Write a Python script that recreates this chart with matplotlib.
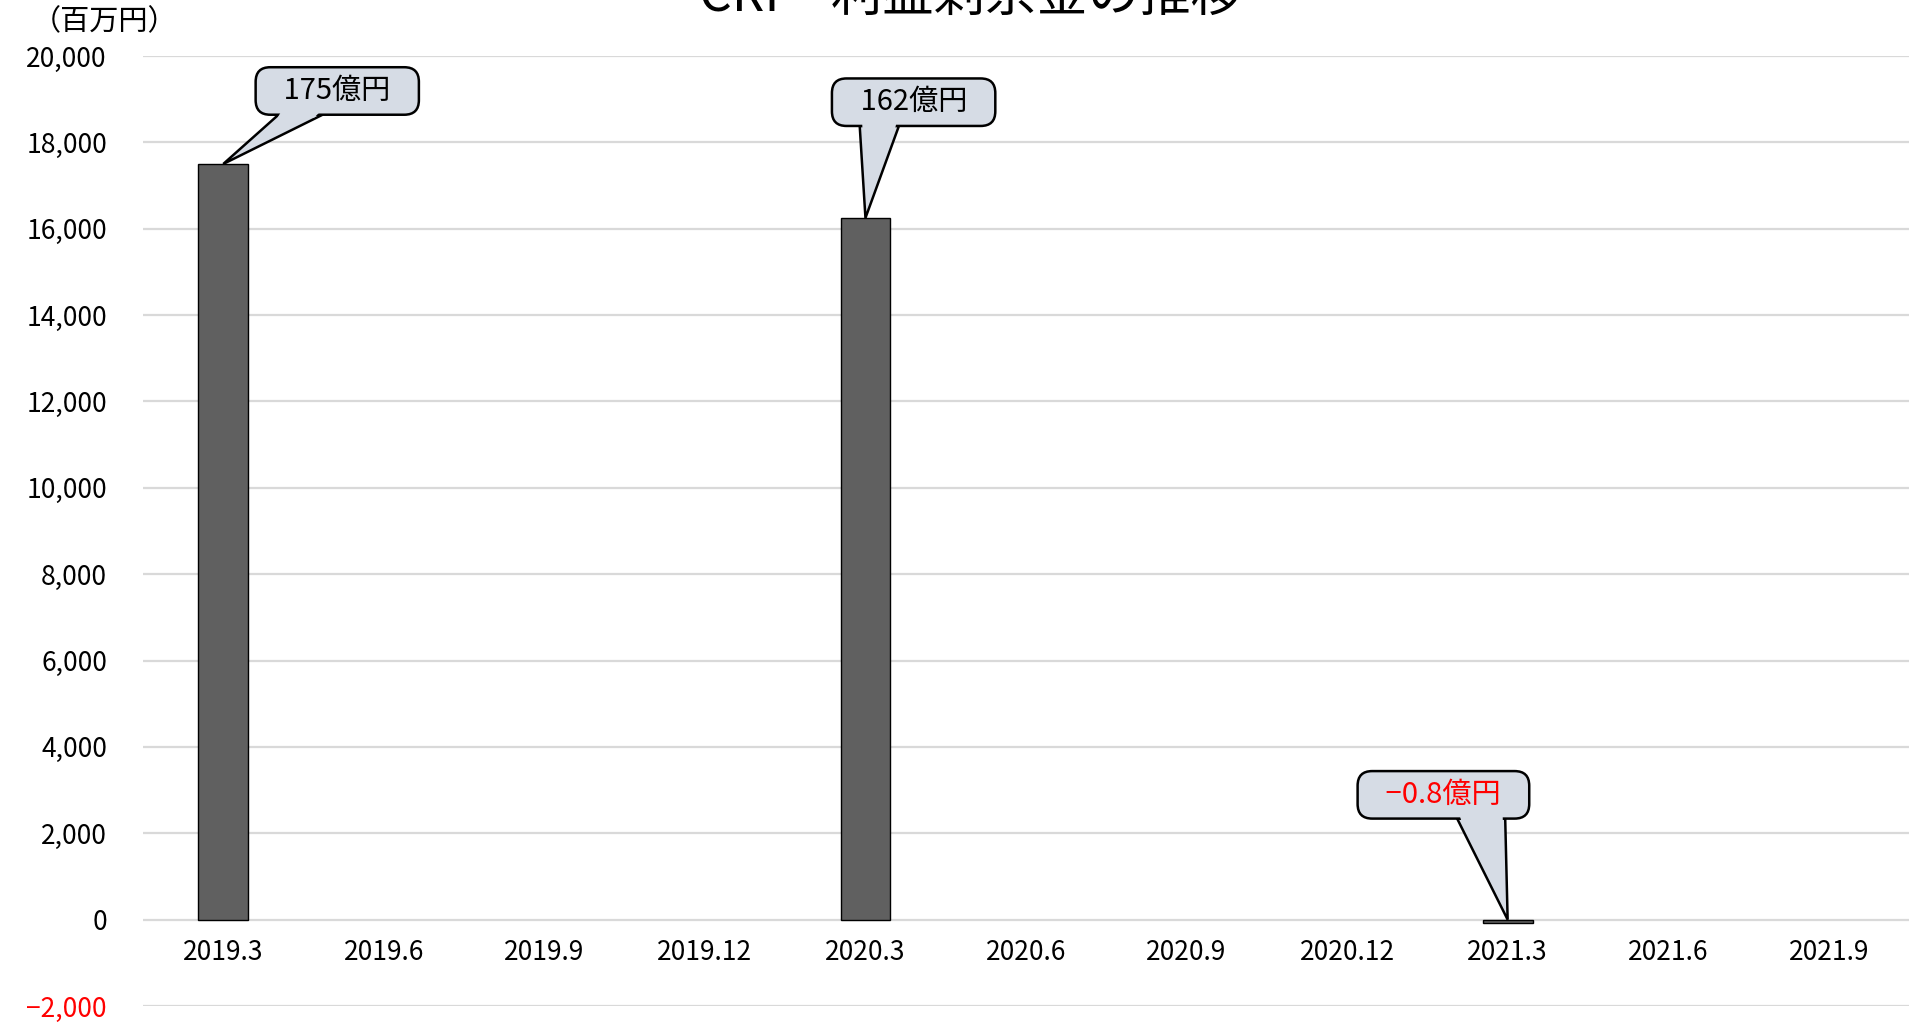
import matplotlib
matplotlib.use("Agg")
import matplotlib.pyplot as plt
from matplotlib.patches import Polygon
import numpy as np

plt.rcParams["font.family"] = ["Noto Sans CJK JP", "DejaVu Sans"]

# 期末 (category labels) and 利益剰余金 (百万円)
periods = ["2019.3", "2019.6", "2019.9", "2019.12", "2020.3", "2020.6",
           "2020.9", "2020.12", "2021.3", "2021.6", "2021.9"]
retained = [17500, np.nan, np.nan, np.nan, 16250, np.nan,
            np.nan, np.nan, -80, np.nan, np.nan]

# callouts: period index, label, text colour, box centre (data coords)
callout_idx = [0, 4, 8]
callout_text = ["175億円", "162億円", "−0.8億円"]
callout_color = ["black", "black", "red"]
callout_pos = [(0.71, 19190), (4.30, 18930), (7.60, 2890)]
# where the pointer leaves the bottom edge of the box (fraction of box width)
callout_base = [(0.14, 0.41), (0.17, 0.41), (0.58, 0.86)]

BOX_FC = "#d6dce5"
yticks = np.arange(-2000, 20001, 2000)

fig = plt.figure(figsize=(19.16, 10.24), dpi=100)
ax = fig.add_axes([143 / 1916, 18 / 1024, (1909 - 143) / 1916, (1024 - 56 - 18) / 1024])

x = np.arange(len(periods))
vals = np.array(retained, dtype=float)
has = ~np.isnan(vals)
ax.bar(x[has], vals[has], width=0.31, color="#606060",
       edgecolor="black", linewidth=1.0, zorder=3)

ax.spines["bottom"].set_position(("data", 0))
for s in ax.spines.values():
    s.set_visible(False)

ax.set_xlim(-0.5, len(periods) - 0.5)
ax.set_ylim(-2000, 20000)
ax.set_yticks(yticks)
ax.set_yticklabels([f"{v:,}".replace("-", "−") for v in yticks], fontsize=19)
for lab, v in zip(ax.get_yticklabels(), yticks):
    if v < 0:
        lab.set_color("red")
ax.grid(axis="y", color="#d9d9d9", lw=1.6, zorder=0)
ax.set_axisbelow(True)

ax.set_xticks(x)
ax.set_xticklabels(periods, fontsize=19)
ax.tick_params(axis="x", length=0, pad=14)
ax.tick_params(axis="y", length=0, pad=26)

labels = []
for txt, col, (tx, ty) in zip(callout_text, callout_color, callout_pos):
    t = ax.text(tx, ty, "   " + txt + "   ", ha="center", va="center",
                fontsize=21, color=col, zorder=5,
                bbox=dict(boxstyle="round,pad=0.3,rounding_size=0.5",
                          fc=BOX_FC, ec="black", lw=1.8))
    labels.append(t)

fig.text(32 / 1916, 1 - 22 / 1024, "（百万円）", fontsize=21, va="center", ha="left")
fig.text(970 / 1916, 1 - 11 / 1024, "CRI　利益剰余金の推移", fontsize=37,
         ha="center", va="baseline")

# speech-bubble pointers, built once the boxes have a size on the canvas
fig.canvas.draw()
renderer = fig.canvas.get_renderer()
for t, i, (f0, f1) in zip(labels, callout_idx, callout_base):
    ext = t.get_bbox_patch().get_window_extent(renderer)
    tip = np.array(ax.transData.transform((x[i], max(vals[i], 0))))
    p0 = np.array([ext.x0 + f0 * ext.width, ext.y0])
    p1 = np.array([ext.x0 + f1 * ext.width, ext.y0])
    ax.add_patch(Polygon([p0, p1, tip], closed=True, transform=None,
                         fc=BOX_FC, ec="black", lw=1.8, zorder=4,
                         joinstyle="miter"))
    # hide the box border where the pointer joins it
    q0 = p0 + 0.06 * (tip - p0) + np.array([2.5, 0])
    q1 = p1 + 0.06 * (tip - p1) - np.array([2.5, 0])
    ax.add_patch(Polygon([p0 + np.array([2.5, 3]), p1 + np.array([-2.5, 3]), q1, q0],
                         closed=True, transform=None, fc=BOX_FC, ec="none",
                         zorder=6))

fig.savefig("out.png", dpi=100)
